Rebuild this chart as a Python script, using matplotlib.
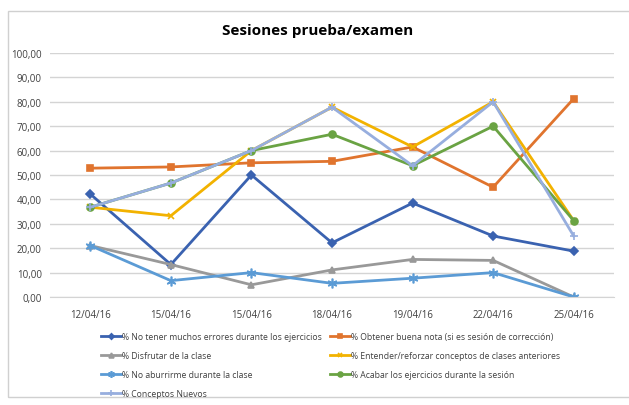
import numpy as np
import matplotlib
matplotlib.use("Agg")
import matplotlib.pyplot as plt
from matplotlib.patches import Rectangle

fechas = ["12/04/16", "15/04/16", "15/04/16", "18/04/16", "19/04/16", "22/04/16", "25/04/16"]

no_errores = [42.2, 13.3, 50.0, 22.2, 38.5, 25.0, 18.8]
buena_nota = [52.8, 53.3, 55.0, 55.6, 61.5, 45.0, 81.3]
disfrutar = [21.1, 13.3, 5.0, 11.1, 15.4, 15.0, 0.0]
entender = [36.8, 33.3, 60.0, 77.8, 61.5, 80.0, 31.3]
no_aburrirme = [21.1, 6.7, 10.0, 5.6, 7.7, 10.0, 0.0]
acabar = [36.8, 46.7, 60.0, 66.7, 53.8, 70.0, 31.3]
conceptos = [36.8, 46.7, 60.0, 77.8, 53.8, 80.0, 25.0]

series = [
    ("% No tener muchos errores durante los ejercicios", no_errores, "#3A62B0", "D", 4),
    ("% Obtener buena nota (si es sesión de corrección)", buena_nota, "#E0742E", "s", 5),
    ("% Disfrutar de la clase", disfrutar, "#999999", "^", 5),
    ("% Entender/reforzar conceptos de clases anteriores", entender, "#F2B200", "x", 5),
    ("% No aburrirme durante la clase", no_aburrirme, "#5B9BD5", (6, 2, 0), 7),
    ("% Acabar los ejercicios durante la sesión", acabar, "#6AA343", "o", 5),
    ("% Conceptos Nuevos", conceptos, "#97AEDE", "+", 6),
]

plt.rcParams["font.family"] = ["Open Sans", "DejaVu Sans"]

fig = plt.figure(figsize=(6.29, 4.06), dpi=100)
fig.patches.append(Rectangle((8 / 629, 8 / 406), 1.0, 386 / 406, transform=fig.transFigure,
                             fill=False, edgecolor="#d0d0d0", linewidth=1))

ax = fig.add_axes([50 / 629, 108 / 406, 564 / 629, 244 / 406])
x = np.arange(len(fechas))

handles = []
for name, vals, col, mk, ms in series:
    h, = ax.plot(x, vals, color=col, linewidth=2, marker=mk, markersize=ms,
                 markeredgecolor=col, markerfacecolor=col, markeredgewidth=1.2, label=name)
    handles.append(h)

ax.set_xlim(-0.5, 6.5)
ax.set_ylim(0, 100)
ax.set_yticks(np.arange(0, 101, 10))
ax.set_yticklabels([f"{v:.2f}".replace(".", ",") for v in np.arange(0, 101, 10)])
ax.set_xticks(x)
ax.set_xticklabels(fechas)
ax.tick_params(axis="both", length=0, labelsize=7, colors="#404040")
ax.tick_params(axis="x", pad=9)
ax.tick_params(axis="y", pad=6)
ax.grid(axis="y", color="#d4d4d4", linewidth=1)
ax.set_axisbelow(True)
for s in ["top", "right", "left"]:
    ax.spines[s].set_visible(False)
ax.spines["bottom"].set_color("#d4d4d4")

fig.text(318 / 629, 1 - 31 / 406, "Sesiones prueba/examen", ha="center", va="center",
         fontsize=11, fontweight="bold", color="#000000")

# legend fills column by column, so reorder to read row by row
orden = [0, 2, 4, 6, 1, 3, 5]
leg = fig.legend(handles=[handles[i] for i in orden], loc="upper left",
                 bbox_to_anchor=(101 / 629, 1 - 333 / 406),
                 ncol=2, frameon=False, fontsize=6.2, handlelength=2.3, handletextpad=0.15,
                 columnspacing=0.9, labelspacing=1.15, borderaxespad=0, borderpad=0,
                 markerscale=0.7)
for t in leg.get_texts():
    t.set_color("#404040")

fig.savefig("out.png", dpi=100)
